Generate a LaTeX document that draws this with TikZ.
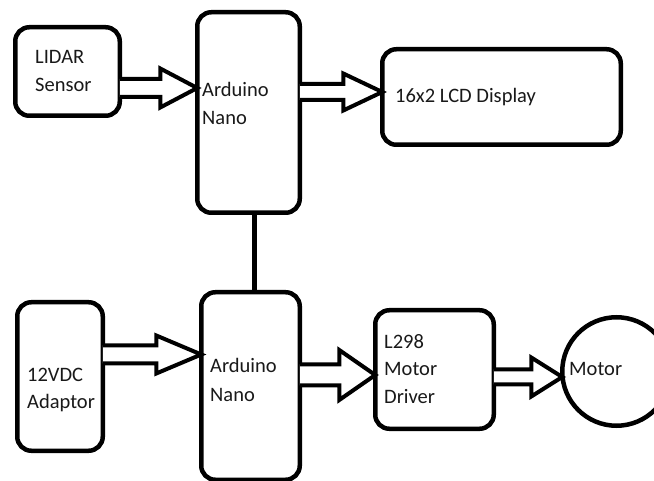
\documentclass[tikz,border=0pt]{standalone}
\usepackage{fontspec}
\setmainfont{Carlito}
\usetikzlibrary{calc}
\tikzset{
  box/.style={draw, line width=4.5pt, rounded corners=14pt, outer sep=0pt, fill=white},
  roundbox/.style={draw, line width=4.5pt, circle, outer sep=0pt, fill=white},
  lbl/.style={anchor=base west, align=left, inner sep=0pt, text=black!90,
    font=\fontsize{20.5}{28}\selectfont},
  blk/.style={draw, line width=4pt, line join=miter, fill=white},
  link/.style={draw, line width=4.5pt}
}
% #1 start, #2 tip, #3 shaft half, #4 head half, #5 head length
\newcommand\blockarrow[5]{%
  \draw[blk] let \p1=(#1), \p2=(#2) in
    (\x1,\y1+#3pt) -- (\x2-#5pt,\y1+#3pt) -- (\x2-#5pt,\y1+#4pt) -- (\x2,\y1)
    -- (\x2-#5pt,\y1-#4pt) -- (\x2-#5pt,\y1-#3pt) -- (\x1,\y1-#3pt);
}
\begin{document}
\begin{tikzpicture}[x=1pt,y=-1pt]
\useasboundingbox (0,0) rectangle (654,481);
\fill[white] (0,0) rectangle (654,481);
\begin{scope}
\clip (0,0) rectangle (654,481);
% boxes
\node[box, minimum width=104.5pt, minimum height=88.5pt] (lidar) at (67.5,71.5) {};
\node[box, minimum width=102.5pt, minimum height=200.5pt] (ard1) at (248.5,112.5) {};
\node[box, minimum width=238.5pt, minimum height=95.5pt] (lcd) at (501.5,97) {};
\node[box, minimum width=85.5pt, minimum height=148.5pt] (adaptor) at (60,376.5) {};
\node[box, minimum width=98.5pt, minimum height=187.5pt] (ard2) at (250.5,386) {};
\node[box, minimum width=118.5pt, minimum height=118.5pt] (l298) at (434.5,369.5) {};
\node[roundbox, minimum size=108.5pt] (motor) at (616.5,371.5) {};
% link between the two Arduinos
\coordinate (vx) at (254.5,0);
\draw[link] (ard1.south -| vx) -- (ard2.north -| vx);
% block arrows
\coordinate (a1s) at (lidar.east |- 0,88);
\coordinate (a1t) at (ard1.west |- 0,88);
\blockarrow{a1s}{a1t}{9}{19.5}{37}
\coordinate (a2s) at (ard1.east |- 0,92);
\coordinate (a2t) at (lcd.west |- 0,92);
\blockarrow{a2s}{a2t}{8}{18.5}{39}
\coordinate (a3s) at (adaptor.east |- 0,354.5);
\coordinate (a3t) at (ard2.west |- 0,354.5);
\blockarrow{a3s}{a3t}{9}{19}{45}
\coordinate (a4s) at (ard2.east |- 0,375);
\coordinate (a4t) at (l298.west |- 0,375);
\blockarrow{a4s}{a4t}{10.5}{25}{36}
\coordinate (a5s) at (l298.east |- 0,377);
\coordinate (a5t) at (motor.west |- 0,377);
\blockarrow{a5s}{a5t}{7.5}{19.5}{31}
% texts (anchored at the baseline of the last line)
\node[lbl] (lidarT) at (35,92) {LIDAR\\Sensor};
\node[lbl] (ard1T) at (202,125) {Arduino\\Nano};
\node[lbl] (lcdT) at (395,103) {16x2 LCD Display};
\node[lbl, font=\fontsize{20.5}{27}\selectfont] (adaptorT) at (27,408) {12VDC\\Adaptor};
\node[lbl, font=\fontsize{20.5}{29}\selectfont] (ard2T) at (210,402) {Arduino\\Nano};
\node[lbl, font=\fontsize{20.5}{27.5}\selectfont] (l298T) at (384,403) {L298\\Motor\\Driver};
\node[lbl] (motorT) at (569,376) {Motor};
\end{scope}
\end{tikzpicture}
\end{document}
